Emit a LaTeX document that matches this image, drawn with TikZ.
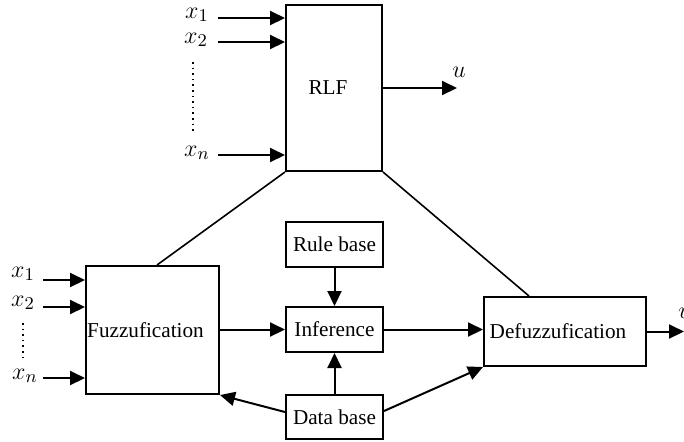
\documentclass[tikz,border=0pt]{standalone}
\usepackage{fontspec}
\setmainfont{Liberation Serif}
\usetikzlibrary{arrows.meta,calc}
\tikzset{
  blk/.style={draw,line width=1pt,inner sep=0pt,font=\fontsize{10.6}{12}\selectfont},
  arr/.style={line width=1pt,-{Triangle[length=7.5pt,width=7pt]}},
  ln/.style={line width=0.8pt},
  lbl/.style={font=\fontsize{12.5}{14}\selectfont,inner sep=0pt},
  dots/.style={line width=0.8pt,dotted}
}
\begin{document}
\begin{tikzpicture}[x=0.5pt,y=-0.5pt]
\useasboundingbox (0,0) rectangle (684,441);
% boxes
\node[blk,minimum width=48pt,minimum height=83pt] (rlf) at (334,88) {\hspace*{-6pt}RLF};
\node[blk,minimum width=66.5pt,minimum height=64pt] (fuzz) at (152.5,330) {\hspace*{-7pt}Fuzzufication};
\node[blk,minimum width=48.5pt,minimum height=22.5pt] (rb) at (334.5,244.5) {Rule base};
\node[blk,minimum width=48.5pt,minimum height=22.5pt] (inf) at (334.5,329.5) {Inference};
\node[blk,minimum width=48.5pt,minimum height=22pt] (db) at (334.5,417) {Data base};
\node[blk,minimum width=81pt,minimum height=34.5pt] (defz) at (565,331.5) {\hspace*{-7pt}Defuzzufication};
% RLF inputs
\coordinate (r1) at (218,18);
\coordinate (r2) at (218,42);
\coordinate (rn) at (218,155);
\draw[arr] (r1) -- (r1 -| rlf.west);
\draw[arr] (r2) -- (r2 -| rlf.west);
\draw[arr] (rn) -- (rn -| rlf.west);
\node[lbl] (lx1) at (197,15) {$x_1$};
\node[lbl] (lx2) at (196,40) {$x_2$};
\node[lbl] (lxn) at (197,153) {$x_n$};
\coordinate (d1a) at (193,62);
\coordinate (d1b) at (193,132);
\draw[dots] (d1a) -- (d1b);
% RLF output
\coordinate (uo) at (457,86);
\draw[arr] (rlf.east) -- (uo |- rlf.east);
\node[lbl] (lu1) at (459,72) {$u$};
% Fuzz inputs
\coordinate (f1) at (43,280);
\coordinate (f2) at (43,307);
\coordinate (fn) at (43,378);
\draw[arr] (f1) -- (f1 -| fuzz.west);
\draw[arr] (f2) -- (f2 -| fuzz.west);
\draw[arr] (fn) -- (fn -| fuzz.west);
\node[lbl] (fx1) at (23,274) {$x_1$};
\node[lbl] (fx2) at (23,303) {$x_2$};
\node[lbl] (fxn) at (25,376) {$x_n$};
\coordinate (d2a) at (23,323);
\coordinate (d2b) at (23,357);
\draw[dots] (d2a) -- (d2b);
% connecting lines
\draw[ln] (rlf.south west) -- ([xshift=2.25pt]fuzz.north);
\draw[ln] (rlf.south east) -- ([xshift=23pt]defz.north west);
% internal arrows
\draw[arr] (fuzz.east |- inf.west) -- (inf.west);
\draw[arr] (inf.east) -- (defz.west |- inf.east);
\draw[arr] (rb.south) -- (inf.north);
\draw[arr] (db.north) -- (inf.south);
\draw[arr] ([yshift=2.5pt]db.west) -- (fuzz.south east);
\draw[arr] ([yshift=3pt]db.east) -- (defz.south west);
% output
\coordinate (uo2) at (684,331.5);
\draw[arr] (defz.east) -- (uo2);
\node[lbl] (lu2) at (685,313) {$u$};
\end{tikzpicture}
\end{document}
